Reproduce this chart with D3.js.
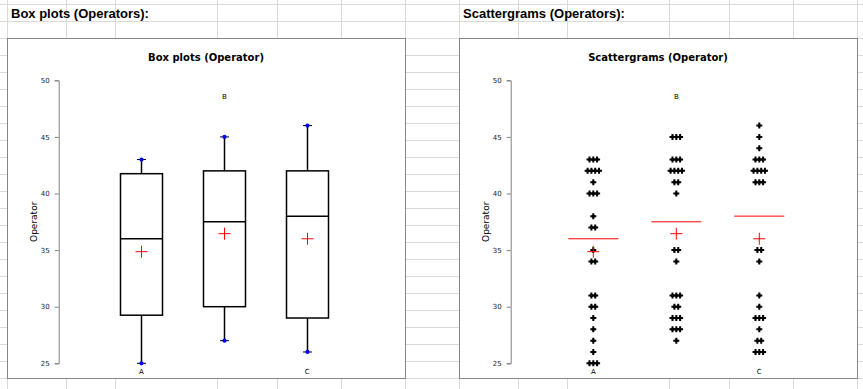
<!DOCTYPE html>
<html>
<head>
<meta charset="utf-8">
<script src="https://cdn.jsdelivr.net/npm/d3@7"></script>
<style>
  body { margin: 0; background: #fff; }
  svg { display: block; }
</style>
</head>
<body>
<svg id="sheet" width="863" height="389"></svg>
<script>
// categories and axis ticks
const operators = ['A', 'B', 'C'];
const yTicks = [25, 30, 35, 40, 45, 50];

// box plot summaries
const boxMin = [25, 27, 26];
const boxQ1 = [29.25, 30, 29];
const boxMedian = [36, 37.5, 38];
const boxQ3 = [41.75, 42, 42];
const boxMax = [43, 45, 46];
const boxMean = [34.86, 36.45, 36.0];

// raw observations per operator (scattergram)
const valuesA = [43, 43, 43, 42, 42, 42, 42, 41, 40, 40, 40, 38, 37, 37, 35, 34, 34, 31, 31, 30, 30, 29, 28, 27, 26, 25, 25, 25];
const valuesB = [45, 45, 45, 43, 43, 43, 42, 42, 42, 42, 41, 41, 40, 35, 35, 34, 31, 31, 31, 30, 30, 29, 29, 29, 28, 28, 28, 27];
const valuesC = [46, 45, 44, 43, 43, 43, 42, 42, 42, 42, 41, 41, 41, 35, 35, 34, 31, 30, 29, 29, 29, 28, 27, 27, 26, 26, 26];
const observations = [valuesA, valuesB, valuesC];

const svg = d3.select('#sheet');

// spreadsheet grid behind the charts
const rowLines = d3.range(4, 389, 17);
const colLines = [7, 66, 115, 217, 277, 341, 405, 459, 518, 567, 669, 729, 793, 857];
svg.append('g').selectAll('line').data(rowLines).join('line')
  .attr('x1', 0).attr('x2', 863).attr('y1', d => d + 0.5).attr('y2', d => d + 0.5)
  .attr('stroke', '#dadada');
svg.append('g').selectAll('line').data(colLines).join('line')
  .attr('y1', 0).attr('y2', 389).attr('x1', d => d + 0.5).attr('x2', d => d + 0.5)
  .attr('stroke', '#dadada');

svg.append('text').attr('x', 11).attr('y', 18)
  .style('font', 'bold 13px "Liberation Sans", Arial, sans-serif')
  .text('Box plots (Operators):');
svg.append('text').attr('x', 463).attr('y', 18)
  .style('font', 'bold 13px "Liberation Sans", Arial, sans-serif')
  .text('Scattergrams (Operators):');

function drawFrame(left, title) {
  const g = svg.append('g').attr('transform', `translate(${left},38)`);
  g.append('rect').attr('x', 0.5).attr('y', 0.5).attr('width', 398).attr('height', 340)
    .attr('fill', '#fff').attr('stroke', '#868686');
  g.append('text').attr('x', 199).attr('y', 23).attr('text-anchor', 'middle')
    .style('font', 'bold 10px "DejaVu Sans", sans-serif')
    .text(title);

  const y = d3.scaleLinear().domain([25, 50]).range([325.3, 42.3]);
  const x = d3.scalePoint().domain(operators).range([134.3, 300.3]);

  const axis = g.append('g').attr('transform', 'translate(51.7,0)')
    .call(d3.axisLeft(y).tickValues(yTicks).tickSize(4).tickPadding(5));
  axis.select('.domain').attr('stroke', '#808080');
  axis.selectAll('.tick line').attr('stroke', '#808080');
  axis.selectAll('.tick text').attr('fill', '#222')
    .style('font', '7px "DejaVu Sans", sans-serif');

  g.append('text')
    .attr('transform', `translate(27,${(y(25) + y(50)) / 2}) rotate(-90)`)
    .attr('text-anchor', 'middle').attr('dy', '0.35em')
    .style('font', '9px "DejaVu Sans", sans-serif')
    .text('Operator');

  // alternating category labels: bottom, top, bottom
  g.selectAll('text.cat').data(operators).join('text')
    .attr('class', 'cat')
    .attr('x', d => x(d))
    .attr('y', (d, i) => i % 2 === 0 ? 336 : 61)
    .attr('text-anchor', 'middle')
    .style('font', '7px "DejaVu Sans", sans-serif')
    .text(d => d);
  return { g, x, y };
}

function meanCross(g, cx, cy) {
  g.append('path')
    .attr('d', `M${cx - 6},${cy}H${cx + 6}M${cx},${cy - 6}V${cy + 6}`)
    .attr('stroke', '#ff0000').attr('stroke-width', 1).attr('fill', 'none');
}

// ---- box plots ----
{
  const { g, x, y } = drawFrame(7, 'Box plots (Operator)');
  const bw = 42;
  operators.forEach((op, i) => {
    const cx = Math.round(x(op)) + 0.5;
    const b = g.append('g').attr('stroke', '#000').attr('stroke-width', 1.5).attr('fill', 'none');
    b.append('line').attr('x1', cx).attr('x2', cx).attr('y1', y(boxMax[i])).attr('y2', y(boxQ3[i]));
    b.append('line').attr('x1', cx).attr('x2', cx).attr('y1', y(boxQ1[i])).attr('y2', y(boxMin[i]));
    b.append('rect').attr('x', cx - bw / 2).attr('y', y(boxQ3[i]))
      .attr('width', bw).attr('height', y(boxQ1[i]) - y(boxQ3[i]));
    b.append('line').attr('x1', cx - bw / 2).attr('x2', cx + bw / 2)
      .attr('y1', y(boxMedian[i])).attr('y2', y(boxMedian[i]));
    [boxMin[i], boxMax[i]].forEach(v => {
      b.append('line').attr('x1', cx - 4.5).attr('x2', cx + 4.5).attr('y1', y(v)).attr('y2', y(v))
        .attr('stroke-width', 1);
      g.append('path').attr('transform', `translate(${cx},${y(v)})`)
        .attr('d', d3.symbol(d3.symbolCircle, 14)()).attr('fill', '#0000ff');
    });
    meanCross(g, cx, y(boxMean[i]));
  });
}

// ---- scattergrams ----
{
  const { g, x, y } = drawFrame(459, 'Scattergrams (Operator)');
  const step = 3.8;
  operators.forEach((op, i) => {
    const cx = x(op);
    const groups = d3.groups(observations[i], v => v);
    const pts = [];
    groups.forEach(([v, arr]) => {
      arr.forEach((_, k) => pts.push({ v, dx: (k - (arr.length - 1) / 2) * step }));
    });
    g.selectAll(null).data(pts).join('path')
      .attr('transform', d => `translate(${cx + d.dx},${y(d.v)})`)
      .attr('d', d3.symbol(d3.symbolCross, 20)())
      .attr('fill', '#000');
    g.selectAll(null).data(pts).join('path')
      .attr('transform', d => `translate(${cx + d.dx},${y(d.v)})`)
      .attr('d', d3.symbol(d3.symbolCircle, 8)())
      .attr('fill', '#000');
    g.append('line').attr('x1', cx - 25).attr('x2', cx + 25)
      .attr('y1', y(boxMedian[i])).attr('y2', y(boxMedian[i]))
      .attr('stroke', '#ff0000').attr('stroke-width', 1);
    meanCross(g, cx, y(boxMean[i]));
  });
}
</script>
</body>
</html>
